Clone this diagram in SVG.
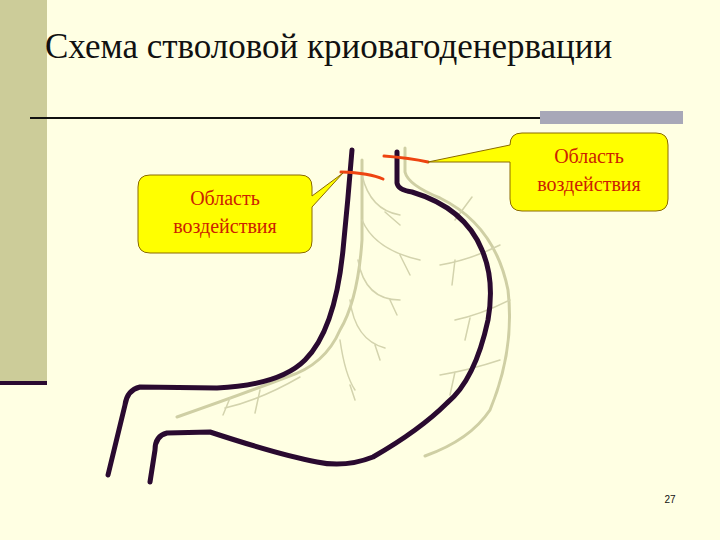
<svg xmlns="http://www.w3.org/2000/svg" width="720" height="540" viewBox="0 0 720 540">
<style>
.dark{fill:none;stroke:#2a0a30;stroke-width:5;stroke-linecap:round;stroke-linejoin:round}
.light{fill:none;stroke:#cfcfa4;stroke-width:3;stroke-linecap:round}
.br{fill:none;stroke:#d3d3ad;stroke-width:1.5;stroke-linecap:round}
.cut{fill:none;stroke:#ee4411;stroke-width:3;stroke-linecap:round}
.box{fill:#ffff00;stroke:#8a6a00;stroke-width:1}
.lbl{font-family:"Liberation Serif",serif;font-size:20px;fill:#cc2200;text-anchor:middle}
</style>
<rect width="720" height="540" fill="#ffffe3"/>
<rect x="0" y="0" width="47" height="383" fill="#cccc99"/>
<rect x="0" y="381" width="47" height="4" fill="#2a0a30"/>
<line x1="30" y1="118" x2="545" y2="118" stroke="#111" stroke-width="2"/>
<rect x="540" y="111" width="143" height="13" fill="#a8a8b8"/>
<text x="45" y="58" font-family="Liberation Serif,serif" font-size="35" fill="#111">Схема стволовой криовагоденервации</text>
<g id="stomach">
<path class="light" d="M405,148 L405,172 Q408,185 440,198 Q495,225 508,290 Q515,350 490,410 Q470,440 425,456"/>
<path class="light" d="M362,160 L362,240 Q358,300 340,330 Q325,365 287,377 Q240,395 177,417"/>
<path class="br" d="M362,175 Q370,210 400,215 M385,212 L400,225 M362,220 Q375,250 420,260 M400,255 L410,275 M358,260 Q365,300 400,300 M390,300 L397,315 M350,300 Q355,340 385,348 M375,345 L380,360 M340,340 Q345,375 355,390 M350,385 L355,400 M472,197 L455,220 M500,245 Q470,260 440,265 M455,260 L452,285 M510,300 Q480,315 455,320 M470,318 L465,340 M500,360 Q470,370 440,375 M455,372 L450,395 M300,377 Q260,400 225,408 M230,398 L223,415 M260,390 L255,413"/>
<path class="dark" d="M352,150 Q348,200 343,250 Q335,330 305,360 Q280,385 217,388 L140,387 Q127,390 125,405 L108,475"/>
<path class="dark" d="M397,152 L397,183 Q398,190 412,192 Q465,208 482,250 Q495,280 488,320 Q475,380 447,403 Q420,430 373,457 Q345,468 317,462 Q280,455 210,432 L167,433 Q155,436 155,450 L150,482"/>
</g>
<g id="cuts">
<path class="cut" d="M341,172 Q370,173 383,179"/>
<path class="cut" d="M384,156 Q410,158 428,162"/>
</g>
<g id="callout-left">
<path class="box" d="M150,175 H300 Q312,175 312,187 V196 L343,173 L312,207 V241 Q312,253 300,253 H150 Q138,253 138,241 V187 Q138,175 150,175 Z"/>
<text class="lbl" x="225" y="205">Область</text>
<text class="lbl" x="225" y="233">воздействия</text>
</g>
<g id="callout-right">
<path class="box" d="M522,133 H656 Q668,133 668,145 V199 Q668,211 656,211 H522 Q510,211 510,199 V162 L428,162 L510,145 Q510,133 522,133 Z"/>
<text class="lbl" x="589" y="163">Область</text>
<text class="lbl" x="589" y="191">воздействия</text>
</g>
<text x="670" y="503" font-family="Liberation Sans,sans-serif" font-size="10" fill="#111" text-anchor="middle">27</text>
</svg>
